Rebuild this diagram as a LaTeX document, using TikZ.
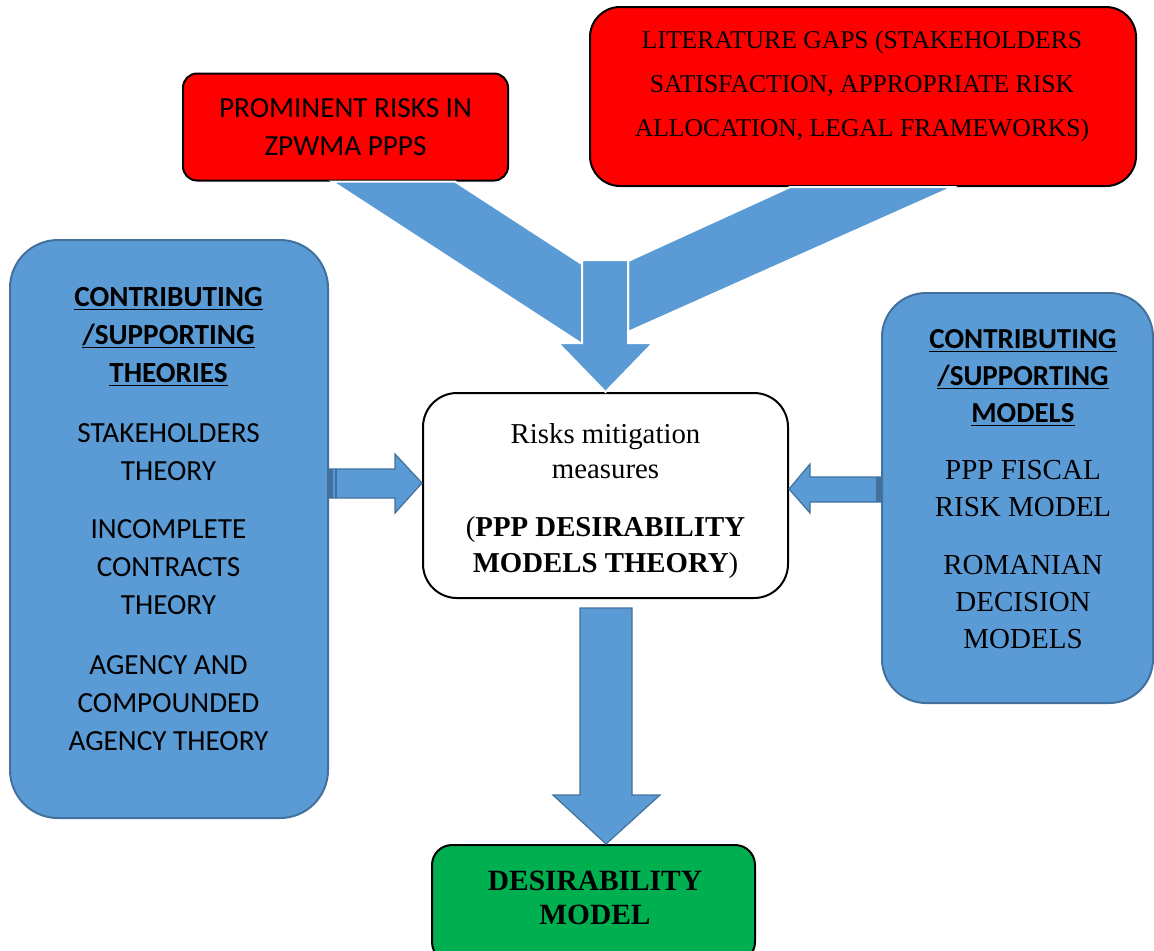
\documentclass[tikz,border=0pt]{standalone}
\usepackage{fontspec}
\setmainfont{Liberation Serif}
\newfontfamily\calibri{Carlito}
\usetikzlibrary{calc}
\definecolor{boxblue}{HTML}{5B9BD5}
\definecolor{edgeblue}{HTML}{41719C}
\definecolor{boxred}{HTML}{FF0000}
\definecolor{boxgreen}{HTML}{00B050}
\newcommand\ulin[1]{\underline{\raisebox{0pt}[\height][0pt]{#1}}}
\newcommand\hdline[1]{{\calibri\bfseries\ulin{#1}}}

\begin{document}
\begin{tikzpicture}[
		x=0.5pt, y=-0.5pt,
		redbox/.style={draw=black, line width=1pt, fill=boxred, rounded corners=#1},
		bluebox/.style={draw=edgeblue, line width=1pt, fill=boxblue, rounded corners=#1},
		whitebox/.style={draw=black, line width=1pt, fill=white, rounded corners=17pt},
		greenbox/.style={draw=black, line width=1pt, fill=boxgreen, rounded corners=10pt},
		txt/.style={align=center, inner sep=0pt},
		blockarrow/.style={fill=boxblue, draw=edgeblue, line width=0.6pt, line join=miter},
		mergearrow/.style={fill=boxblue, draw=white, line width=1pt, line join=miter}]
	\clip (0,0) rectangle (1154,950);
	%% top boxes
	\node[redbox=7pt, minimum width=162.5pt, minimum height=53.5pt, align=center,
		font={\calibri\fontsize{14.6}{19}\selectfont}] (risks) at (345.5,127)
		{PROMINENT RISKS IN\\ZPWMA PPPS};
	\node[redbox=15pt, minimum width=273pt, minimum height=89.5pt] (gaps) at (863,96.5) {};
	\node[txt, font={\fontsize{12.8}{22}\selectfont}] (gapstxt) at (862,86)
		{LITERATURE GAPS (STAKEHOLDERS\\SATISFACTION, APPROPRIATE RISK\\ALLOCATION, LEGAL FRAMEWORKS)};
	%% side boxes
	\node[bluebox=24pt, minimum width=159pt, minimum height=289pt] (theories) at (169,529) {};
	\node[txt, font={\calibri\fontsize{14.6}{19}\selectfont}] (theotxt) at (168.5,519)
		{\hdline{CONTRIBUTING}\\\hdline{/SUPPORTING}\\\hdline{THEORIES}\\[11pt]
		STAKEHOLDERS\\THEORY\\[10pt]
		INCOMPLETE\\CONTRACTS\\THEORY\\[11pt]
		AGENCY AND\\COMPOUNDED\\AGENCY THEORY};
	\node[bluebox=22pt, minimum width=135.5pt, minimum height=205pt] (models) at (1017.5,498) {};
	\node[txt, font={\fontsize{14.5}{18.5}\selectfont}] (modtxt) at (1023,489.5)
		{\hdline{CONTRIBUTING}\\\hdline{/SUPPORTING}\\\hdline{MODELS}\\[10pt]
		PPP FISCAL\\RISK MODEL\\[10.5pt]
		ROMANIAN\\DECISION\\MODELS};
	%% middle and bottom
	\node[whitebox, minimum width=182.5pt, minimum height=102.5pt] (mit) at (605.5,495.5) {};
	\node[txt, font={\fontsize{14.4}{17.5}\selectfont}] (mittxt) at (605.5,501)
		{Risks mitigation\\measures\\[11.5pt](\textbf{PPP DESIRABILITY}\\[0.5pt]\textbf{MODELS THEORY})};
	\node[greenbox, minimum width=161.5pt, minimum height=58.5pt] (desir) at (593.5,903.5) {};
	\node[txt, font={\bfseries\fontsize{14.7}{17}\selectfont}] (desirtxt) at (595,898)
		{DESIRABILITY\\MODEL};
	%% merging arrow from the top
	\draw[mergearrow] (332,0 |- risks.south) -- (455,0 |- risks.south) -- (582,264) -- (582,344) -- cycle;
	\draw[mergearrow] (790,0 |- gaps.south) -- (953,0 |- gaps.south) -- (628,332) -- (628,261) -- cycle;
	\draw[mergearrow] (582,260) -- (628,260) -- (628,343) -- (653,343) -- (mit.north)
		-- (558,343) -- (582,343) -- cycle;
	%% side arrows
	\draw[blockarrow] (theories.east |- 0,469) -- (395,469) -- (395,454) -- (mit.west |- 0,483)
		-- (395,513) -- (395,498) -- (theories.east |- 0,498) -- cycle;
	\fill[edgeblue] (theories.east |- 0,469) rectangle (333,498);
	\draw[edgeblue, line width=1pt] (336,469) -- (336,498);
	\draw[blockarrow] (models.west |- 0,477) -- (810,477) -- (810,464) -- (mit.east |- 0,489)
		-- (810,513) -- (810,502) -- (models.west |- 0,502) -- cycle;
	\fill[edgeblue] (876,477) rectangle (models.west |- 0,502);
	%% arrow to the result
	\draw[blockarrow] ($(580,0 |- mit.south)+(0,9)$) -- ($(632,0 |- mit.south)+(0,9)$) -- (632,795)
		-- (660,795) -- (desir.north -| 606,0) -- (553,795) -- (580,795) -- cycle;
\end{tikzpicture}
\end{document}
